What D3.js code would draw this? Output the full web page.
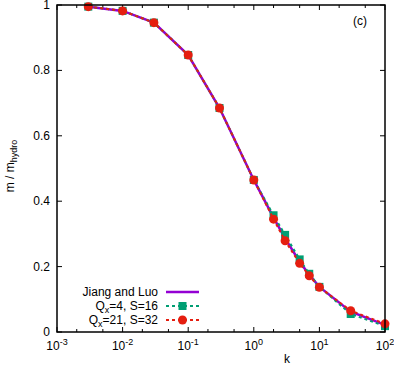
<!DOCTYPE html>
<html>
<head>
<meta charset="utf-8">
<script src="https://cdn.jsdelivr.net/npm/d3@7"></script>
<style>
  body { margin: 0; background: #fff; }
  svg { font-family: "Liberation Sans", Arial, sans-serif; }
</style>
</head>
<body>
<svg width="394" height="367"></svg>
<script>
// values
var kValues = [0.003, 0.01, 0.03, 0.1, 0.3, 1, 2, 3, 5, 7, 10, 30, 100];
var jiangLuo = [0.995, 0.982, 0.946, 0.847, 0.685, 0.465, 0.35, 0.286, 0.215, 0.175, 0.138, 0.062, 0.022];
var qx4 = [0.995, 0.982, 0.946, 0.847, 0.685, 0.465, 0.357, 0.297, 0.222, 0.178, 0.138, 0.055, 0.018];
var qx21 = [0.995, 0.982, 0.946, 0.847, 0.685, 0.465, 0.345, 0.279, 0.21, 0.172, 0.137, 0.065, 0.025];
var xMajor = [-3, -2, -1, 0, 1, 2];
var yTicks = [0, 0.2, 0.4, 0.6, 0.8, 1];

var svg = d3.select("svg"),
    margin = {top: 5, right: 9, bottom: 35, left: 57},
    width = +svg.attr("width") - margin.left - margin.right,
    height = +svg.attr("height") - margin.top - margin.bottom;

var g = svg.append("g")
    .attr("transform", "translate(" + margin.left + "," + margin.top + ")");

var x = d3.scaleLog().domain([1e-3, 1e2]).range([0, width]);
var y = d3.scaleLinear().domain([0, 1]).range([height, 0]);

var purple = "#9400d3", green = "#009e73", red = "#e51e10";
var fs = 12, fsSmall = 9;

// minor ticks at 2 and 5 of every decade
var xMinor = [];
xMajor.slice(0, -1).forEach(function (e) {
    xMinor.push(2 * Math.pow(10, e), 5 * Math.pow(10, e));
});
var xMajorVals = xMajor.map(function (e) { return Math.pow(10, e); });

// ticks pointing inwards on all four sides
var ticks = g.append("g").attr("stroke", "#000").attr("stroke-width", 1);
xMajorVals.forEach(function (v) {
    ticks.append("line").attr("x1", x(v)).attr("x2", x(v)).attr("y1", height).attr("y2", height - 5);
    ticks.append("line").attr("x1", x(v)).attr("x2", x(v)).attr("y1", 0).attr("y2", 5);
});
xMinor.forEach(function (v) {
    ticks.append("line").attr("x1", x(v)).attr("x2", x(v)).attr("y1", height).attr("y2", height - 3);
    ticks.append("line").attr("x1", x(v)).attr("x2", x(v)).attr("y1", 0).attr("y2", 3);
});
yTicks.forEach(function (v) {
    ticks.append("line").attr("x1", 0).attr("x2", 5).attr("y1", y(v)).attr("y2", y(v));
    ticks.append("line").attr("x1", width).attr("x2", width - 5).attr("y1", y(v)).attr("y2", y(v));
});

// tick labels
g.selectAll(".ylab")
    .data(yTicks)
    .enter()
    .append("text")
    .attr("x", -7)
    .attr("y", function (d) { return y(d) + 4; })
    .attr("text-anchor", "end")
    .attr("font-size", fs)
    .text(function (d) { return d3.format("~g")(d); });

var xl = g.selectAll(".xlab")
    .data(xMajor)
    .enter()
    .append("text")
    .attr("x", function (d) { return x(Math.pow(10, d)); })
    .attr("y", height + 18)
    .attr("text-anchor", "middle")
    .attr("font-size", fs);
xl.append("tspan").text("10");
xl.append("tspan").attr("dy", -5).attr("font-size", fsSmall).text(function (d) { return d; });

// axis titles
g.append("text")
    .attr("x", x(3.2))
    .attr("y", height + 31)
    .attr("text-anchor", "middle")
    .attr("font-size", fs)
    .text("k");

var yt = svg.append("text")
    .attr("transform", "translate(14,166)rotate(-90)")
    .attr("text-anchor", "middle")
    .attr("font-size", fs);
yt.append("tspan").text("m / m");
yt.append("tspan").attr("dy", 3).attr("font-size", fsSmall).text("hydro");

g.append("text")
    .attr("x", 303)
    .attr("y", 20)
    .attr("text-anchor", "middle")
    .attr("font-size", fs)
    .text("(c)");

// series
var line = d3.line()
    .x(function (d) { return x(d[0]); })
    .y(function (d) { return y(d[1]); });

function pairs(vals) {
    return kValues.map(function (k, i) { return [k, vals[i]]; });
}

g.append("path")
    .datum(pairs(jiangLuo))
    .attr("fill", "none")
    .attr("stroke", purple)
    .attr("stroke-width", 2.5)
    .attr("d", line);

g.append("path")
    .datum(pairs(qx4))
    .attr("fill", "none")
    .attr("stroke", green)
    .attr("stroke-width", 2)
    .attr("stroke-dasharray", "3,3")
    .attr("d", line);

g.selectAll(".sq")
    .data(pairs(qx4))
    .enter()
    .append("rect")
    .attr("x", function (d) { return x(d[0]) - 4; })
    .attr("y", function (d) { return y(d[1]) - 4; })
    .attr("width", 8)
    .attr("height", 8)
    .attr("fill", green);

g.append("path")
    .datum(pairs(qx21))
    .attr("fill", "none")
    .attr("stroke", red)
    .attr("stroke-width", 2)
    .attr("stroke-dasharray", "3,3")
    .attr("d", line);

g.selectAll(".ci")
    .data(pairs(qx21))
    .enter()
    .append("circle")
    .attr("cx", function (d) { return x(d[0]); })
    .attr("cy", function (d) { return y(d[1]); })
    .attr("r", 4.5)
    .attr("fill", red);

// frame
g.append("rect")
    .attr("width", width)
    .attr("height", height)
    .attr("fill", "none")
    .attr("stroke", "#000")
    .attr("stroke-width", 1.5);

// legend
var leg = svg.append("g");
var rows = [
    {y: 292, color: purple, dash: null, mark: null},
    {y: 306, color: green, dash: "3,3", mark: "square"},
    {y: 320, color: red, dash: "3,3", mark: "circle"}
];
rows.forEach(function (r) {
    leg.append("line")
        .attr("x1", 166).attr("x2", 199)
        .attr("y1", r.y).attr("y2", r.y)
        .attr("stroke", r.color)
        .attr("stroke-width", r.dash ? 2 : 2.5)
        .attr("stroke-dasharray", r.dash);
    if (r.mark == "square") {
        leg.append("rect").attr("x", 178.5).attr("y", r.y - 4).attr("width", 8).attr("height", 8).attr("fill", r.color);
    } else if (r.mark == "circle") {
        leg.append("circle").attr("cx", 182.5).attr("cy", r.y).attr("r", 4.5).attr("fill", r.color);
    }
});

leg.append("text").attr("x", 158).attr("y", 296).attr("text-anchor", "end")
    .attr("font-size", fs).text("Jiang and Luo");

var t2 = leg.append("text").attr("x", 158).attr("y", 310).attr("text-anchor", "end").attr("font-size", fs);
t2.append("tspan").text("Q");
t2.append("tspan").attr("dy", 3).attr("font-size", fsSmall).text("x");
t2.append("tspan").attr("dy", -3).text("=4, S=16");

var t3 = leg.append("text").attr("x", 158).attr("y", 324).attr("text-anchor", "end").attr("font-size", fs);
t3.append("tspan").text("Q");
t3.append("tspan").attr("dy", 3).attr("font-size", fsSmall).text("x");
t3.append("tspan").attr("dy", -3).text("=21, S=32");
</script>
</body>
</html>
